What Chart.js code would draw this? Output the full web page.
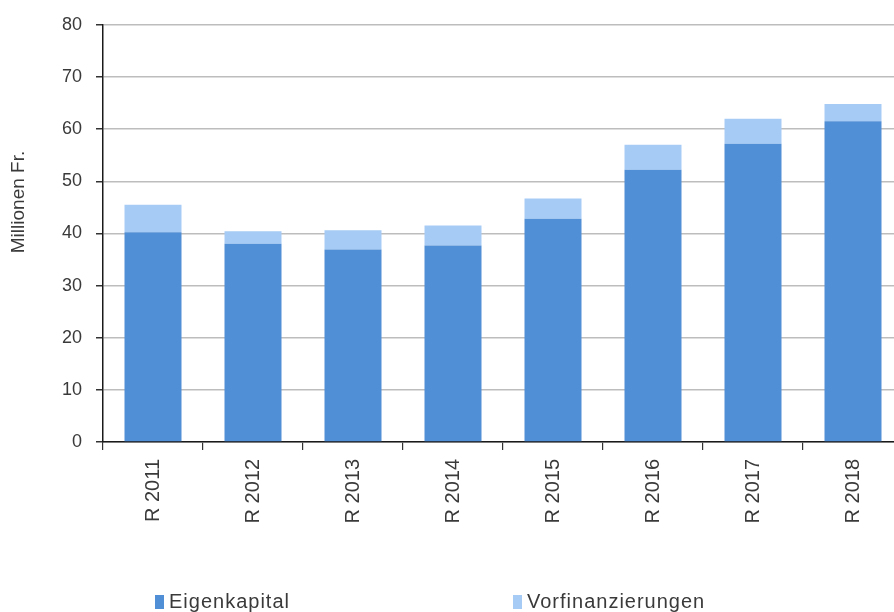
<!DOCTYPE html>
<html lang="de">
<head>
<meta charset="utf-8">
<title>Eigenkapital und Vorfinanzierungen</title>
<script src="https://cdn.jsdelivr.net/npm/chart.js@4"></script>
<style>
  html, body { margin: 0; padding: 0; background: #fff; overflow: hidden; }
  #wrap { position: relative; width: 894px; height: 612px; overflow: hidden; }
  #c { position: absolute; left: 0; top: 0; }
  .legend-item {
    position: absolute; top: 589px; height: 24px;
    font-family: "Liberation Sans", Arial, sans-serif; font-size: 20px;
    letter-spacing: 1px; color: #3a3a3a; white-space: nowrap; line-height: 24px;
  }
  .legend-item .box { display: inline-block; width: 9px; height: 14px; margin-right: 5px; vertical-align: -1px; }
</style>
</head>
<body>
<div id="wrap">
  <canvas id="c" width="910" height="612"></canvas>
  <div id="legend"></div>
</div>
<script>
// Rechnungsjahre
const categories = ["R 2011", "R 2012", "R 2013", "R 2014", "R 2015", "R 2016", "R 2017", "R 2018"];
// Millionen Franken
const eigenkapital = [40.2, 38.0, 36.9, 37.7, 42.8, 52.2, 57.2, 61.5];
const vorfinanzierungen = [5.3, 2.4, 3.7, 3.8, 3.9, 4.8, 4.8, 3.3];
const yTicks = [0, 10, 20, 30, 40, 50, 60, 70, 80];
const yTitle = "Millionen Fr.";

const DARK = "#508ed5";
const LIGHT = "#a6cbf5";
const TEXT = "#3a3a3a";
const FONT = "'Liberation Sans', Arial, sans-serif";

// Vertical axis title, placed on the left margin
const axisTitle = {
  id: "axisTitle",
  afterDraw(chart) {
    const ctx = chart.ctx;
    ctx.save();
    ctx.translate(19, 202);
    ctx.rotate(-Math.PI / 2);
    ctx.font = "19px " + FONT;
    ctx.fillStyle = TEXT;
    ctx.textAlign = "center";
    ctx.textBaseline = "middle";
    ctx.fillText(yTitle, 0, 0);
    ctx.restore();
  }
};

const chart = new Chart(document.getElementById("c"), {
  type: "bar",
  data: {
    labels: categories,
    datasets: [
      { label: "Eigenkapital", data: eigenkapital, backgroundColor: DARK, borderWidth: 0 },
      { label: "Vorfinanzierungen", data: vorfinanzierungen, backgroundColor: LIGHT, borderWidth: 0 }
    ]
  },
  options: {
    responsive: false,
    animation: false,
    layout: { padding: { top: 22, right: 7, bottom: 0, left: 0 } },
    datasets: { bar: { barPercentage: 0.57, categoryPercentage: 1.0 } },
    plugins: { legend: { display: false }, tooltip: { enabled: false } },
    scales: {
      x: {
        stacked: true,
        afterFit(scale) { scale.height = 170; },
        border: { color: "#1a1a1a", width: 1.5 },
        grid: { offset: true, drawOnChartArea: false, drawTicks: true, tickLength: 8, tickColor: "#333", lineWidth: 1.2 },
        ticks: { minRotation: 90, maxRotation: 90, padding: 9, color: TEXT, font: { family: FONT, size: 20 } }
      },
      y: {
        stacked: true,
        min: 0, max: 80,
        afterFit(scale) { scale.width = 103; },
        afterBuildTicks(scale) { scale.ticks = yTicks.map(v => ({ value: v })); },
        border: { color: "#1a1a1a", width: 1.5 },
        grid: { color: "#bdbdbd", lineWidth: 1.5, tickLength: 7, tickColor: "#333" },
        ticks: { padding: 14, color: TEXT, font: { family: FONT, size: 18 } }
      }
    }
  },
  plugins: [axisTitle]
});

// Legend built from the datasets
const legendPos = [155, 513];
const legend = document.getElementById("legend");
chart.data.datasets.forEach((ds, i) => {
  const item = document.createElement("div");
  item.className = "legend-item";
  item.style.left = legendPos[i] + "px";
  const box = document.createElement("span");
  box.className = "box";
  box.style.background = ds.backgroundColor;
  item.appendChild(box);
  item.appendChild(document.createTextNode(ds.label));
  legend.appendChild(item);
});
</script>
</body>
</html>
